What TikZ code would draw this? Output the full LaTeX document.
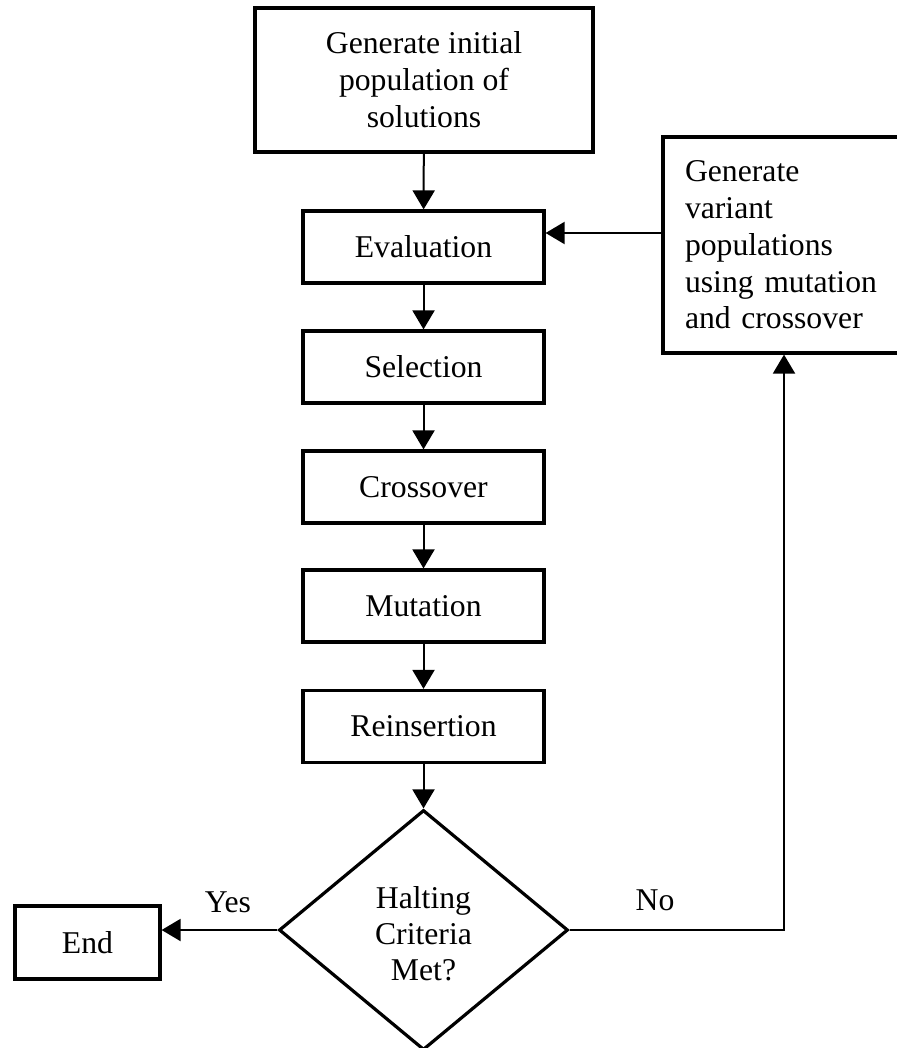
\documentclass[tikz,border=0pt]{standalone}
\usepackage{fontspec}
\setmainfont{Liberation Serif}
\usetikzlibrary{arrows.meta,shapes.geometric}
\begin{document}
\begin{tikzpicture}[x=0.5pt,y=-0.5pt,
  every node/.style={font=\fontsize{15.85pt}{18.5pt}\selectfont},
  stepbox/.style={draw,line width=1.6pt,minimum width=120.5pt,minimum height=36pt,inner sep=0pt,align=center},
  arr/.style={line width=1pt,-{Triangle[length=9.5pt,width=11pt]}},
  conn/.style={line width=1pt}]
\useasboundingbox (0,0) rectangle (896,1048);
% main column
\node[stepbox,minimum width=169pt,minimum height=72pt] (init) at (424,80)
  {Generate initial\\population of\\solutions};
\node[stepbox] (eval) at (423.5,247) {Evaluation};
\node[stepbox] (sel)  at (423.5,367) {Selection};
\node[stepbox] (cross) at (423.5,487) {Crossover};
\node[stepbox] (mut)  at (423.5,606) {Mutation};
\node[stepbox] (rein) at (423.5,726.5) {Reinsertion};
% decision
\node[draw,diamond,line width=1.6pt,inner sep=0pt,minimum width=144.5pt,minimum height=120pt,
  font=\fontsize{15.85pt}{18pt}\selectfont] (dec) at (423.5,930)
  {\raisebox{-3.5pt}[\height][\depth]{\begin{tabular}{@{}c@{}}Halting\\Criteria\\Met?\end{tabular}}};
% side boxes
\node[stepbox,minimum width=72.5pt,minimum height=36.5pt] (end) at (87.5,942.5) {End};
\node[draw,line width=1.6pt,minimum width=121pt,minimum height=108pt,inner xsep=11pt,inner ysep=0pt,
  text width=99pt,align=left,font=\fontsize{15.85pt}{18.4pt}\selectfont] (var) at (784,245)
  {Generate\\variant\\populations\\using mutation\\and crossover};
% connectors
\draw[arr] (init) -- (eval);
\draw[arr] (eval) -- (sel);
\draw[arr] (sel) -- (cross);
\draw[arr] (cross) -- (mut);
\draw[arr] (mut) -- (rein);
\draw[arr] (rein) -- (dec);
\draw[arr] (dec.west) -- (dec.west -| end.east);
\draw[arr] (dec.east) -| (var.south);
\draw[arr] ([yshift=6pt]var.west) -- ([yshift=6pt]var.west -| eval.east);
% branch labels
\node[anchor=base] (yes) at (228,912) {Yes};
\node[anchor=base] (no) at (655,910) {No};
\end{tikzpicture}
\end{document}
